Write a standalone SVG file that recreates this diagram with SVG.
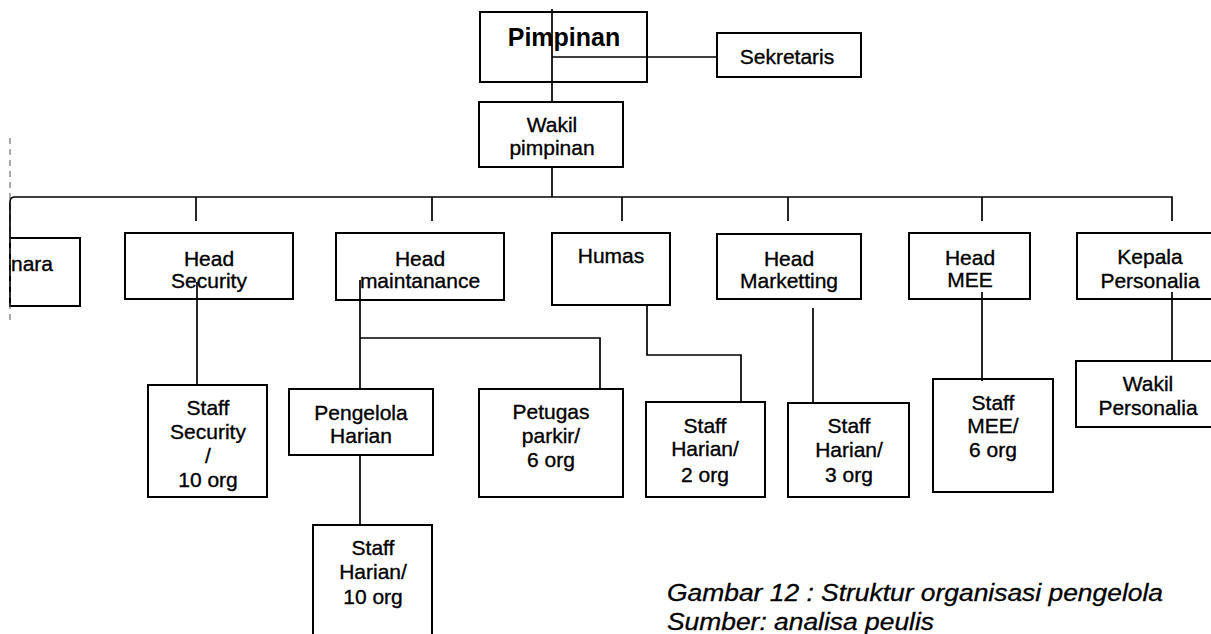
<svg xmlns="http://www.w3.org/2000/svg" width="1211" height="634" viewBox="0 0 1211 634">
<style>
.box{fill:#fff;stroke:#000;stroke-width:2}
.lbl{font-family:"Liberation Sans",Arial,sans-serif;font-size:21px;fill:#000;stroke:#000;stroke-width:0.35;text-anchor:middle}
.ttl{font-family:"Liberation Sans",Arial,sans-serif;font-size:25px;font-weight:bold;fill:#000;text-anchor:middle}
.cap{font-family:"Liberation Sans",Arial,sans-serif;font-size:24.5px;font-style:italic;fill:#000;stroke:#000;stroke-width:0.3}
.ln{fill:none;stroke:#000;stroke-width:1.7}
.dash{fill:none;stroke:#555;stroke-width:1;stroke-dasharray:6 5}
</style>
<rect width="1211" height="634" fill="#fff"/>

<g id="nodes">
<g id="pimpinan"><rect class="box" x="480" y="12" width="167" height="70"/><text class="ttl" x="564" y="46">Pimpinan</text></g>
<g id="sekretaris"><rect class="box" x="717" y="33" width="144" height="44"/><text class="lbl" x="787" y="64">Sekretaris</text></g>
<g id="wakil-pimpinan"><rect class="box" x="479" y="102" width="144" height="65"/><text class="lbl" x="552" y="132">Wakil</text><text class="lbl" x="552" y="155">pimpinan</text></g>
<g id="nara"><rect class="box" x="10" y="238" width="70" height="68"/><text class="lbl" x="11" y="271" style="text-anchor:start">nara</text></g>
<g id="head-security"><rect class="box" x="125" y="233" width="168" height="66"/><text class="lbl" x="209" y="266">Head</text><text class="lbl" x="209" y="288">Security</text></g>
<g id="head-maintanance"><rect class="box" x="336" y="233" width="168" height="67"/><text class="lbl" x="420" y="266">Head</text><text class="lbl" x="420" y="288">maintanance</text></g>
<g id="humas"><rect class="box" x="552" y="233" width="118" height="72"/><text class="lbl" x="611" y="263">Humas</text></g>
<g id="head-marketting"><rect class="box" x="717" y="234" width="144" height="65"/><text class="lbl" x="789" y="266">Head</text><text class="lbl" x="789" y="288">Marketting</text></g>
<g id="head-mee"><rect class="box" x="909" y="233" width="121" height="66"/><text class="lbl" x="970" y="265">Head</text><text class="lbl" x="970" y="287">MEE</text></g>
<g id="kepala-personalia"><rect class="box" x="1077" y="233" width="140" height="66"/><text class="lbl" x="1150" y="264">Kepala</text><text class="lbl" x="1150" y="288">Personalia</text></g>
<g id="staff-security"><rect class="box" x="148" y="385" width="119" height="112"/><text class="lbl" x="208" y="415">Staff</text><text class="lbl" x="208" y="439">Security</text><text class="lbl" x="208" y="463">/</text><text class="lbl" x="208" y="487">10 org</text></g>
<g id="pengelola-harian"><rect class="box" x="289" y="389" width="144" height="66"/><text class="lbl" x="361" y="420">Pengelola</text><text class="lbl" x="361" y="443">Harian</text></g>
<g id="staff-harian-10"><rect class="box" x="313" y="525" width="119" height="120"/><text class="lbl" x="373" y="555">Staff</text><text class="lbl" x="373" y="579">Harian/</text><text class="lbl" x="373" y="604">10 org</text></g>
<g id="petugas-parkir"><rect class="box" x="479" y="389" width="144" height="108"/><text class="lbl" x="551" y="419">Petugas</text><text class="lbl" x="551" y="443">parkir/</text><text class="lbl" x="551" y="467">6 org</text></g>
<g id="staff-harian-2"><rect class="box" x="646" y="402" width="119" height="95"/><text class="lbl" x="705" y="433">Staff</text><text class="lbl" x="705" y="456">Harian/</text><text class="lbl" x="705" y="482">2 org</text></g>
<g id="staff-harian-3"><rect class="box" x="788" y="403" width="121" height="94"/><text class="lbl" x="849" y="433">Staff</text><text class="lbl" x="849" y="457">Harian/</text><text class="lbl" x="849" y="482">3 org</text></g>
<g id="staff-mee"><rect class="box" x="933" y="379" width="120" height="113"/><text class="lbl" x="993" y="410">Staff</text><text class="lbl" x="993" y="433">MEE/</text><text class="lbl" x="993" y="457">6 org</text></g>
<g id="wakil-personalia"><rect class="box" x="1076" y="361" width="141" height="66"/><text class="lbl" x="1148" y="391">Wakil</text><text class="lbl" x="1148" y="415">Personalia</text></g>
</g>

<g id="connectors">
<path class="dash" d="M10 138 V320"/>
<path class="ln" d="M552 9 V102 M552 167 V197 M552 57 H717"/>
<path class="ln" d="M10 238 V202 Q10 197 15 197 H1172 V221"/>
<path class="ln" d="M196 197 V221 M432 197 V221 M622 197 V221 M788 197 V221 M982 197 V221"/>
<path class="ln" d="M197 282 V385"/>
<path class="ln" d="M360 280 V389 M360 338 H600 V389 M360 455 V525"/>
<path class="ln" d="M647 305 V355 H741 V402"/>
<path class="ln" d="M813 308 V403"/>
<path class="ln" d="M982 292 V381"/>
<path class="ln" d="M1172 292 V361"/>
</g>

<g id="caption">
<text class="cap" x="667" y="601" textLength="496" lengthAdjust="spacingAndGlyphs">Gambar 12 : Struktur organisasi pengelola</text>
<text class="cap" x="667" y="630" textLength="267" lengthAdjust="spacingAndGlyphs">Sumber: analisa peulis</text>
</g>
</svg>
